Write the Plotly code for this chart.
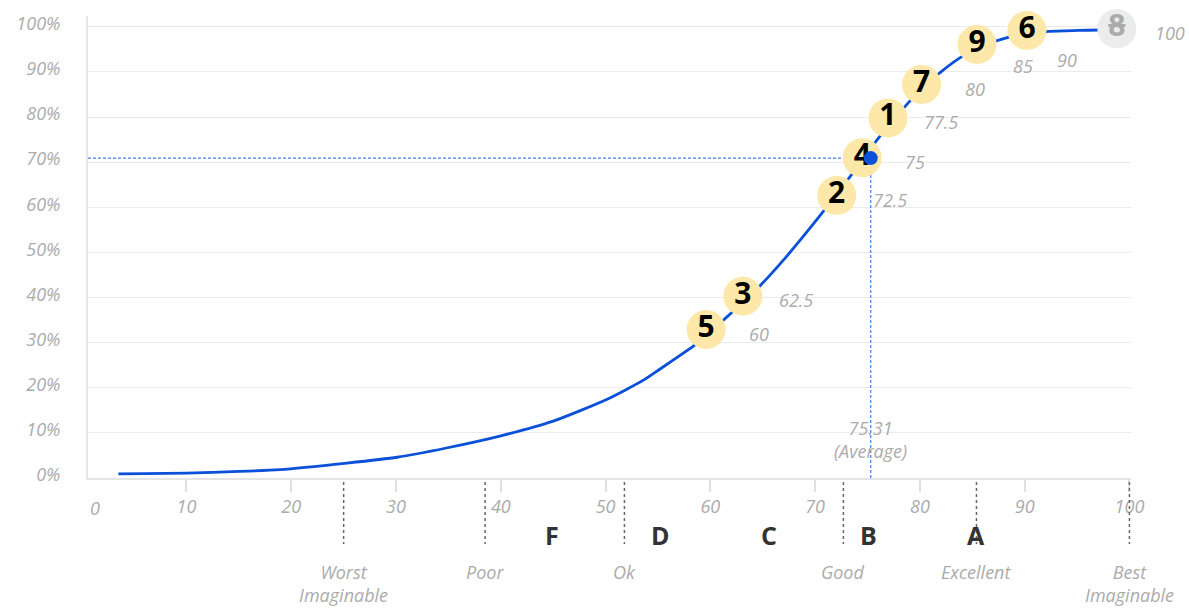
import plotly.graph_objects as go

# Percentile curve of the score distribution (score -> percent of sessions at or below)
curve_score = [3.5, 6, 10, 15, 18.9, 25.3, 30.1, 34.8, 40.1, 45.0, 50.1, 53.7, 55.1,
               58.6, 61.3, 64.7, 67.2, 69.1, 71.2, 73.6, 76.1, 78.95, 80.5, 82.1, 84.0,
               86.0, 88.0, 90.0, 92.3, 95.1, 97.0, 98.8]
curve_pct = [0.9, 0.95, 1.1, 1.45, 1.85, 3.3, 4.6, 6.65, 9.4, 12.6, 17.4, 21.8, 24.0,
             29.6, 35.1, 42.5, 48.9, 54.2, 60.3, 67.6, 75.5, 83.3, 87.0, 90.2, 93.4,
             95.8, 97.4, 98.4, 99.0, 99.2, 99.3, 99.5]

# Participants, their scores, and where each badge sits along the curve
participants = ["5", "3", "2", "4", "1", "7", "9", "6", "8"]
scores = [60, 62.5, 72.5, 75, 77.5, 80, 85, 90, 100]
badge_score = [59.6, 63.1, 72.06, 74.5, 76.95, 80.16, 85.46, 90.22, 98.8]
badge_pct = [32.9, 40.3, 62.6, 71.0, 79.8, 87.2, 96.1, 99.2, 99.6]
excluded = ["8"]

average_score = 75.31
average_pct = 70.9

# Adjective rating boundaries and letter grades
adjective_score = [25, 38.5, 51.8, 72.7, 85.4, 100]
adjective_text = ["Worst<br>Imaginable", "Poor", "Ok", "Good", "Excellent", "Best<br>Imaginable"]
grade_score = [44.85, 55.2, 65.6, 75.05, 85.4]
grade_text = ["F", "D", "C", "B", "A"]

x_ticks = [10, 20, 30, 40, 50, 60, 70, 80, 90, 100]
y_ticks = [0, 10, 20, 30, 40, 50, 60, 70, 80, 90, 100]

FONT = "Open Sans"
LABEL_SIZE = 18
GRAY = "#ababab"
BLUE = "#0a50d8"
AVG_BLUE = "#3f7fe6"


def ital(s):
    return f"<i>{s}</i>"


fig = go.Figure()

# guide lines to the average
fig.add_trace(go.Scatter(
    x=[0.6, average_score], y=[average_pct, average_pct], mode="lines",
    line=dict(color=AVG_BLUE, width=1.2, dash="3px,2px"), hoverinfo="skip"))
fig.add_trace(go.Scatter(
    x=[average_score, average_score], y=[0, average_pct], mode="lines",
    line=dict(color=AVG_BLUE, width=1.2, dash="3px,2px"), hoverinfo="skip"))

# percentile curve
fig.add_trace(go.Scatter(
    x=curve_score, y=curve_pct, mode="lines",
    line=dict(color=BLUE, width=2.8, shape="spline", smoothing=0.6),
    hoverinfo="skip"))

# participant badges
fill = ["#ececec" if p in excluded else "#fde8aa" for p in participants]
txt_color = [GRAY if p in excluded else "#000000" for p in participants]
badge_text = [f'<span style="text-decoration:line-through">{p}</span>' if p in excluded else p
              for p in participants]
fig.add_trace(go.Scatter(
    x=badge_score, y=badge_pct, mode="markers+text",
    marker=dict(size=39, color=fill, line=dict(width=0)),
    text=badge_text, textposition="middle center",
    textfont=dict(family=FONT, size=30, color=txt_color, weight=700),
    cliponaxis=False, hoverinfo="skip"))

# average point
fig.add_trace(go.Scatter(
    x=[average_score], y=[average_pct], mode="markers",
    marker=dict(size=14, color=BLUE), cliponaxis=False, hoverinfo="skip"))

annotations = []
label_font = dict(family=FONT, size=LABEL_SIZE, color=GRAY)

# score labels next to each badge (crowded ones nudged down)
label_nudge = {"9": (46, -22), "6": (40, -30)}
for p, s, bx, by in zip(participants, scores, badge_score, badge_pct):
    dx, dy = label_nudge.get(p, (53, -4))
    annotations.append(dict(
        x=bx, y=by, xref="x", yref="y", text=ital(f"{s:g}"), showarrow=False,
        xshift=dx, yshift=dy, xanchor="center", yanchor="middle", font=label_font))

# average label
annotations.append(dict(
    x=average_score, y=0, xref="x", yref="y",
    text=ital(f"{average_score:g}<br>(Average)"),
    showarrow=False, yanchor="bottom", yshift=13, font=label_font))

# the "0" tick label at the left end of the axis
annotations.append(dict(
    x=0, y=0, xref="paper", yref="paper", text=ital("0"), showarrow=False,
    xanchor="center", yanchor="middle", xshift=7, yshift=-30, font=label_font))

# letter grades
for g, gx in zip(grade_text, grade_score):
    annotations.append(dict(
        x=gx, y=0, xref="x", yref="paper", text=g, showarrow=False,
        yanchor="middle", yshift=-57,
        font=dict(family=FONT, size=25, color="#333333", weight=700)))

# adjective labels
for a, ax_ in zip(adjective_text, adjective_score):
    annotations.append(dict(
        x=ax_, y=0, xref="x", yref="paper", text=ital(a), showarrow=False,
        yanchor="top", yshift=-80, font=label_font))

# dotted boundary markers under the axis
shapes = []
for ax_ in adjective_score:
    shapes.append(dict(
        type="line", xref="x", yref="paper", x0=ax_, x1=ax_,
        ysizemode="pixel", yanchor=0, y0=-4, y1=-66,
        line=dict(color="#666666", width=1.5, dash="3px,3px")))

fig.update_layout(
    width=1189, height=609, autosize=False,
    margin=dict(l=88, r=58, t=16, b=131),
    paper_bgcolor="white", plot_bgcolor="white",
    showlegend=False,
    font=dict(family=FONT, color=GRAY),
    annotations=annotations, shapes=shapes,
    xaxis=dict(
        range=[0.6, 100.15], tickvals=x_ticks, ticktext=[ital(v) for v in x_ticks],
        showgrid=False, zeroline=False,
        showline=True, linecolor="#e4e4e4", linewidth=1.5,
        ticks="outside", ticklen=12, tickcolor="#e0e0e0", tickwidth=1.5,
        ticklabelstandoff=0,
        tickfont=dict(family=FONT, size=LABEL_SIZE, color=GRAY)),
    yaxis=dict(
        range=[0, 102.4], tickvals=y_ticks, ticktext=[ital(f"{v}%") for v in y_ticks],
        showgrid=True, gridcolor="#ebebeb", gridwidth=1.2, zeroline=False,
        showline=True, linecolor="#e8e8e8", linewidth=2,
        ticks="", ticklabelstandoff=22, ticklabelshift=-3,
        tickfont=dict(family=FONT, size=LABEL_SIZE, color=GRAY)),
)

fig.write_html("out.html")
